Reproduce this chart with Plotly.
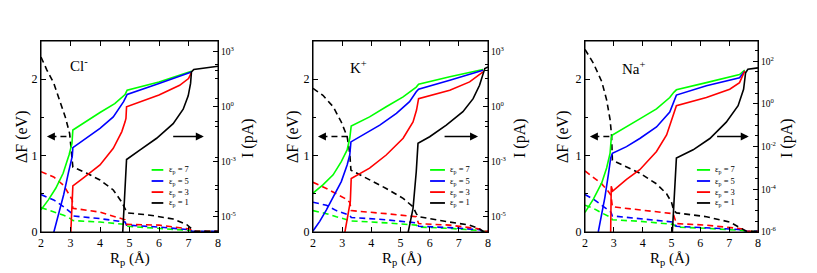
import plotly.graph_objects as go

# ---------------- data ----------------
X_TICK_VALUES = [2, 3, 4, 5, 6, 7, 8]
DF_TICK_VALUES = [0, 1, 2]
EPS_LEVELS = [7, 5, 3, 1]
EPS_COLORS = ["#00ff00", "#0000ff", "#ff0000", "#000000"]
PANEL_LABELS = ["Cl<sup>-</sup>", "K<sup>+</sup>", "Na<sup>+</sup>"]

# right-axis (current) tick values / labels
I_TICKS_A = [1e3, 1e0, 1e-3, 1e-6]
I_TEXT_A = ["10<sup>3</sup>", "10<sup>0</sup>", "10<sup>-3</sup>", "10<sup>-5</sup>"]
I_TICKS_B = [1e2, 1e0, 1e-2, 1e-4, 1e-6]
I_TEXT_B = ["10<sup>2</sup>", "10<sup>0</sup>", "10<sup>-2</sup>", "10<sup>-4</sup>", "10<sup>-6</sup>"]

# ---- Cl- : free energy barrier (dashed, eV) ----
cl_dF_x_e1 = [2.0, 2.2, 2.43, 2.65, 2.82, 2.97, 3.05, 3.08, 3.55, 4.0, 4.45, 4.74, 4.88, 4.93, 5.7, 6.48, 6.93, 7.1, 7.2, 8.0]
cl_dF_e1 = [2.29, 2.12, 1.95, 1.71, 1.51, 1.29, 1.03, 0.85, 0.77, 0.68, 0.55, 0.39, 0.28, 0.25, 0.22, 0.17, 0.10, 0.04, 0.01, 0.01]
cl_dF_x = [2.0, 2.43, 2.77, 3.0, 3.06, 3.08, 4.0, 4.85, 4.9, 6.0, 7.05, 7.12, 8.0]
cl_dF_e3 = [0.79, 0.72, 0.61, 0.46, 0.42, 0.31, 0.26, 0.16, 0.10, 0.09, 0.04, 0.01, 0.01]
cl_dF_e5 = [0.49, 0.42, 0.33, 0.26, 0.24, 0.21, 0.175, 0.13, 0.09, 0.065, 0.03, 0.008, 0.008]
cl_dF_e7 = [0.32, 0.26, 0.22, 0.175, 0.16, 0.15, 0.13, 0.10, 0.075, 0.05, 0.02, 0.005, 0.005]

# ---- Cl- : current (solid, pA) ----
cl_I_x_e7 = [2.0, 2.25, 2.5, 2.75, 2.95, 3.05, 3.08, 3.5, 4.0, 4.5, 4.85, 4.88, 4.92, 6.0, 7.1]
cl_I_e7 = [2.3e-6, 8.1e-6, 3.5e-5, 2.3e-4, 2.3e-3, 1.0e-2, 5.4e-2, 0.15, 0.49, 1.5, 4.7, 6.0, 8.1, 23, 89]
cl_I_x_e5 = [2.43, 2.6, 2.77, 2.93, 3.01, 3.06, 3.08, 3.55, 4.0, 4.45, 4.8, 4.88, 4.92, 6.0, 7.1]
cl_I_e5 = [1.3e-7, 1.3e-6, 1.6e-5, 2.5e-4, 1.0e-3, 2.0e-3, 5.8e-3, 1.9e-2, 6.6e-2, 0.28, 1.9, 3.5, 4.7, 19, 81]
cl_I_x_e3 = [3.01, 3.06, 3.08, 3.44, 4.0, 4.45, 4.74, 4.85, 4.88, 4.9, 6.0, 6.7, 7.0, 7.1]
cl_I_e3 = [1.3e-7, 1.0e-5, 4.7e-5, 1.3e-4, 6.6e-4, 5.4e-3, 4.4e-2, 0.15, 0.23, 1.0, 4.4, 15, 35, 74]
cl_I_x_e1 = [4.77, 4.85, 4.9, 5.36, 5.92, 6.48, 6.82, 6.99, 7.07, 7.1, 7.18, 8.0]
cl_I_e1 = [1.3e-7, 3.2e-5, 1.3e-3, 4.4e-3, 1.9e-2, 0.12, 0.74, 4.0, 19, 81, 110, 166]

# ---- K+ : free energy barrier (dashed, eV) ----
k_dF_x_e1 = [2.0, 2.34, 2.69, 2.97, 3.17, 3.26, 3.3, 3.94, 4.51, 5.09, 5.43, 5.54, 5.62, 6.69, 7.37, 7.71, 7.83, 8.0]
k_dF_e1 = [1.88, 1.79, 1.64, 1.44, 1.25, 1.03, 0.81, 0.68, 0.57, 0.44, 0.33, 0.24, 0.20, 0.13, 0.09, 0.04, 0.01, 0.01]
k_dF_x = [2.0, 2.46, 2.8, 3.09, 3.26, 3.31, 4.51, 5.54, 5.62, 6.69, 7.71, 7.83, 8.0]
k_dF_e3 = [0.65, 0.57, 0.50, 0.44, 0.39, 0.28, 0.24, 0.20, 0.11, 0.09, 0.04, 0.01, 0.01]
k_dF_e5 = [0.39, 0.35, 0.28, 0.24, 0.22, 0.19, 0.16, 0.12, 0.075, 0.057, 0.03, 0.008, 0.008]
k_dF_e7 = [0.28, 0.24, 0.20, 0.17, 0.16, 0.145, 0.12, 0.09, 0.065, 0.048, 0.02, 0.005, 0.005]

# ---- K+ : current (solid, pA) ----
k_I_x_e7 = [2.0, 2.34, 2.69, 2.97, 3.17, 3.26, 3.31, 3.94, 4.51, 5.09, 5.54, 5.62, 6.69, 7.83]
k_I_e7 = [1.9e-5, 5.4e-5, 1.9e-4, 1.0e-3, 4.4e-3, 1.9e-2, 8.9e-2, 0.28, 1.0, 3.5, 12, 17, 44, 110]
k_I_x_e5 = [2.0, 2.23, 2.46, 2.74, 2.97, 3.17, 3.26, 3.3, 3.71, 4.29, 4.86, 5.31, 5.54, 5.62, 6.69, 7.83]
k_I_e5 = [1.6e-7, 5.4e-7, 2.3e-6, 1.5e-5, 8.1e-5, 6.6e-4, 2.3e-3, 1.2e-2, 2.8e-2, 0.1, 0.44, 1.9, 6.6, 9.1, 28, 100]
k_I_x_e3 = [3.09, 3.2, 3.28, 3.31, 3.94, 4.51, 5.09, 5.43, 5.55, 5.62, 6.69, 7.37, 7.83]
k_I_e3 = [1.3e-7, 1.3e-6, 6.6e-6, 1.2e-4, 4.4e-4, 2.3e-3, 1.9e-2, 0.15, 0.66, 2.8, 8.1, 23, 81]
k_I_x_e1 = [5.26, 5.43, 5.54, 5.6, 6.0, 6.57, 7.14, 7.49, 7.71, 7.83, 7.89, 8.0]
k_I_e1 = [1.3e-7, 2.8e-6, 2.8e-4, 1.0e-2, 2.3e-2, 0.1, 0.54, 2.8, 15, 66, 123, 151]

# ---- Na+ : free energy barrier (dashed, eV) ----
na_dF_x_e1 = [2.0, 2.29, 2.58, 2.75, 2.87, 2.92, 2.95, 3.44, 3.9, 4.48, 4.83, 5.0, 5.08, 5.17, 6.21, 7.02, 7.48, 7.6, 8.0]
na_dF_e1 = [2.39, 2.21, 1.97, 1.73, 1.47, 1.27, 0.94, 0.85, 0.77, 0.63, 0.50, 0.39, 0.28, 0.25, 0.20, 0.13, 0.04, 0.01, 0.01]
na_dF_x = [2.0, 2.29, 2.58, 2.81, 2.9, 2.95, 3.9, 5.06, 5.17, 6.21, 7.48, 7.6, 8.0]
na_dF_e3 = [0.80, 0.72, 0.63, 0.53, 0.48, 0.33, 0.29, 0.24, 0.11, 0.09, 0.04, 0.01, 0.01]
na_dF_e5 = [0.49, 0.43, 0.35, 0.29, 0.26, 0.21, 0.175, 0.13, 0.075, 0.057, 0.03, 0.008, 0.008]
na_dF_e7 = [0.35, 0.31, 0.25, 0.21, 0.19, 0.16, 0.14, 0.10, 0.065, 0.048, 0.02, 0.005, 0.005]

# ---- Na+ : current (solid, pA) ----
na_I_x_e7 = [2.0, 2.29, 2.58, 2.75, 2.87, 2.91, 2.95, 3.44, 3.9, 4.48, 4.94, 5.08, 5.17, 6.21, 7.36, 7.54]
na_I_e7 = [8.3e-6, 3.5e-5, 2.0e-4, 1.0e-3, 4.9e-3, 2.4e-2, 3.5e-2, 8.3e-2, 0.2, 0.59, 2.0, 3.5, 4.6, 10, 24, 38]
na_I_x_e5 = [2.46, 2.58, 2.69, 2.81, 2.89, 2.95, 3.44, 3.9, 4.48, 4.94, 5.08, 5.17, 6.21, 7.36, 7.54]
na_I_e5 = [1.0e-6, 7.1e-6, 4.2e-5, 4.9e-4, 2.9e-3, 4.9e-3, 1.0e-2, 2.4e-2, 8.3e-2, 0.42, 1.2, 2.6, 7.1, 17, 35]
na_I_x_e3 = [2.89, 2.91, 2.96, 3.44, 3.9, 4.48, 4.83, 5.03, 5.11, 5.17, 6.21, 7.02, 7.36, 7.54]
na_I_e3 = [1.0e-6, 1.4e-4, 8.3e-5, 2.9e-4, 8.3e-4, 5.9e-3, 3.5e-2, 0.2, 0.42, 0.83, 2.0, 4.9, 10, 35]
na_I_x_e1 = [5.03, 5.1, 5.17, 5.75, 6.33, 6.9, 7.31, 7.5, 7.57, 7.65, 8.0]
na_I_e1 = [1.0e-6, 8.3e-5, 2.9e-3, 7.1e-3, 2.4e-2, 0.14, 0.83, 4.9, 29, 42, 49]

# ---------------- figure ----------------
FONT = "Liberation Serif"
W, H = 817, 273
X_DOMAINS = [[41 / W, 218 / W], [313 / W, 488 / W], [585 / W, 758 / W]]
Y_DOMAIN = [1 - 232 / H, 1 - 41 / H]

panels = [
    dict(dF=[(cl_dF_x, cl_dF_e7), (cl_dF_x, cl_dF_e5), (cl_dF_x, cl_dF_e3), (cl_dF_x_e1, cl_dF_e1)],
         cur=[(cl_I_x_e7, cl_I_e7), (cl_I_x_e5, cl_I_e5), (cl_I_x_e3, cl_I_e3), (cl_I_x_e1, cl_I_e1)],
         irange=[-6.85, 3.6], ticks=(I_TICKS_A, I_TEXT_A),
         minor=[10 ** 2.3, 10 ** 2.0, 10 ** 1.55, 10 ** 0.45, 10 ** -0.8, 10 ** -1.1,
                10 ** -2.75, 10 ** -4.3, 10 ** -4.5, 10 ** -5.75],
         label_pos=(0.155, 0.874), leg_x=(0.625, 0.691, 0.712),
         arrow_l=(2.2, 3.0), arrow_r=(6.43, 7.52),
         title_px=(22, 248, 130)),
    dict(dF=[(k_dF_x, k_dF_e7), (k_dF_x, k_dF_e5), (k_dF_x, k_dF_e3), (k_dF_x_e1, k_dF_e1)],
         cur=[(k_I_x_e7, k_I_e7), (k_I_x_e5, k_I_e5), (k_I_x_e3, k_I_e3), (k_I_x_e1, k_I_e1)],
         irange=[-6.85, 3.6], ticks=(I_TICKS_A, I_TEXT_A),
         minor=[10 ** 2.3, 10 ** 2.0, 10 ** 1.55, 10 ** 0.45, 10 ** -0.8, 10 ** -1.1,
                10 ** -2.75, 10 ** -4.3, 10 ** -4.5, 10 ** -5.75],
         label_pos=(0.2, 0.864), leg_x=(0.669, 0.754, 0.77),
         arrow_l=(2.17, 3.2), arrow_r=(6.46, 7.66),
         title_px=(293, 520, 402)),
    dict(dF=[(na_dF_x, na_dF_e7), (na_dF_x, na_dF_e5), (na_dF_x, na_dF_e3), (na_dF_x_e1, na_dF_e1)],
         cur=[(na_I_x_e7, na_I_e7), (na_I_x_e5, na_I_e5), (na_I_x_e3, na_I_e3), (na_I_x_e1, na_I_e1)],
         irange=[-6.0, 2.95], ticks=(I_TICKS_B, I_TEXT_B),
         minor=[10 ** 2.5, 10 ** 1.5, 10 ** 1.0, 10 ** 0.5, 10 ** -0.5, 10 ** -1.0, 10 ** -1.5,
                10 ** -2.5, 10 ** -3.0, 10 ** -3.5, 10 ** -4.5, 10 ** -5.0, 10 ** -5.5],
         label_pos=(0.2, 0.859), leg_x=(0.647, 0.723, 0.738),
         arrow_l=(2.17, 2.92), arrow_r=(6.53, 7.68),
         title_px=(563, 787, 670)),
]

fig = go.Figure()
layout = dict(width=W, height=H, margin=dict(l=0, r=0, t=0, b=0, pad=0),
              paper_bgcolor="white", plot_bgcolor="white", showlegend=False,
              font=dict(family=FONT, color="black"))
annotations = []
shapes = []

LEG_ROWS = [0.325, 0.267, 0.209, 0.152]

for i, p in enumerate(panels):
    n = i + 1
    xa = "x" if n == 1 else f"x{n}"
    yl_i = 2 * i + 1
    yr_i = 2 * i + 2
    yl = "y" if yl_i == 1 else f"y{yl_i}"
    yr = f"y{yr_i}"

    # dashed: free energy (left axis)
    for (xs, ys), c in zip(p["dF"], EPS_COLORS):
        fig.add_trace(go.Scatter(x=xs, y=ys, mode="lines", xaxis=xa, yaxis=yl,
                                 line=dict(color=c, width=1.6, dash="6px,4px")))
    # solid: current (right axis)
    for (xs, ys), c in zip(p["cur"], EPS_COLORS):
        fig.add_trace(go.Scatter(x=xs, y=ys, mode="lines", xaxis=xa, yaxis=yr,
                                 line=dict(color=c, width=1.6)))

    xkey = "xaxis" if n == 1 else f"xaxis{n}"
    ylkey = "yaxis" if yl_i == 1 else f"yaxis{yl_i}"
    yrkey = f"yaxis{yr_i}"
    layout[xkey] = dict(domain=X_DOMAINS[i], anchor=yl, range=[2, 8],
                        tickmode="array", tickvals=X_TICK_VALUES,
                        ticks="inside", ticklen=5, tickcolor="black",
                        showline=True, linecolor="black", linewidth=1, mirror="ticks",
                        showgrid=False, zeroline=False, automargin=False,
                        tickfont=dict(family=FONT, size=12, color="black"))
    layout[ylkey] = dict(domain=Y_DOMAIN, anchor=xa, range=[0, 2.5],
                         tickmode="array", tickvals=DF_TICK_VALUES,
                         ticks="inside", ticklen=5, tickcolor="black",
                         minor=dict(tickmode="array", tickvals=[0.5, 1.5], ticks="inside",
                                    ticklen=3, tickcolor="black"),
                         showline=True, linecolor="black", linewidth=1,
                         showgrid=False, zeroline=False, automargin=False,
                         tickfont=dict(family=FONT, size=12, color="black"))
    layout[yrkey] = dict(overlaying=yl, anchor=xa, side="right", type="log",
                         range=p["irange"], tickmode="array",
                         tickvals=p["ticks"][0], ticktext=p["ticks"][1],
                         ticks="inside", ticklen=5, tickcolor="black",
                         minor=dict(tickmode="array", tickvals=p["minor"], ticks="inside",
                                    ticklen=3, tickcolor="black"),
                         showline=True, linecolor="black", linewidth=1,
                         showgrid=False, zeroline=False, automargin=False,
                         tickfont=dict(family=FONT, size=9.5, color="black"))

    xd = f"{xa} domain"
    yd = f"{yl} domain"

    # frame
    shapes.append(dict(type="rect", xref=xd, yref=yd, x0=0, x1=1, y0=0, y1=1,
                       line=dict(color="black", width=1), layer="above"))

    # panel label
    annotations.append(dict(text=PANEL_LABELS[i], xref=xd, yref=yd,
                            x=p["label_pos"][0], y=p["label_pos"][1],
                            xanchor="left", yanchor="middle",
                            showarrow=False, font=dict(family=FONT, size=15, color="black")))

    # legend (line samples + text)
    lx0, lx1, tx = p["leg_x"]
    for eps, c, ry in zip(EPS_LEVELS, EPS_COLORS, LEG_ROWS):
        shapes.append(dict(type="line", xref=xd, yref=yd, x0=lx0, x1=lx1, y0=ry, y1=ry,
                           line=dict(color=c, width=1.8)))
        annotations.append(dict(text=f"ε<sub>p</sub> = {eps}", xref=xd, yref=yd,
                                x=tx, y=ry, xanchor="left", yanchor="middle",
                                showarrow=False,
                                font=dict(family=FONT, size=8.5, color="black")))

    # arrows
    al0, al1 = p["arrow_l"]
    shapes.append(dict(type="line", xref=xa, yref=yl, x0=al0 + 0.12, x1=al1, y0=1.25, y1=1.25,
                       line=dict(color="black", width=1.6, dash="6px,4px")))
    annotations.append(dict(x=al0, y=1.25, ax=al0 + 0.14, ay=1.25, xref=xa, yref=yl,
                            axref=xa, ayref=yl, text="", showarrow=True,
                            arrowhead=2, arrowsize=1, arrowwidth=1.6, arrowcolor="black"))
    ar0, ar1 = p["arrow_r"]
    annotations.append(dict(x=ar1, y=1.25, ax=ar0, ay=1.25, xref=xa, yref=yl,
                            axref=xa, ayref=yl, text="", showarrow=True,
                            arrowhead=2, arrowsize=1, arrowwidth=1.6, arrowcolor="black"))

    # axis titles
    lpx, rpx, bpx = p["title_px"]
    annotations.append(dict(text="ΔF (eV)", xref="paper", yref="paper",
                            x=lpx / W, y=1 - 137 / H, textangle=-90, showarrow=False,
                            xanchor="center", yanchor="middle",
                            font=dict(family=FONT, size=16, color="black")))
    annotations.append(dict(text="I (pA)", xref="paper", yref="paper",
                            x=rpx / W, y=1 - 138 / H, textangle=-90, showarrow=False,
                            xanchor="center", yanchor="middle",
                            font=dict(family=FONT, size=16, color="black")))
    annotations.append(dict(text="R<sub>p</sub> (Å)", xref="paper", yref="paper",
                            x=bpx / W, y=1 - 259 / H, showarrow=False,
                            xanchor="center", yanchor="middle",
                            font=dict(family=FONT, size=15, color="black")))

layout["annotations"] = annotations
layout["shapes"] = shapes
fig.update_layout(**layout)
fig.write_html("out.html", config={"displayModeBar": False},
               post_script="document.body.style.margin='0';")
